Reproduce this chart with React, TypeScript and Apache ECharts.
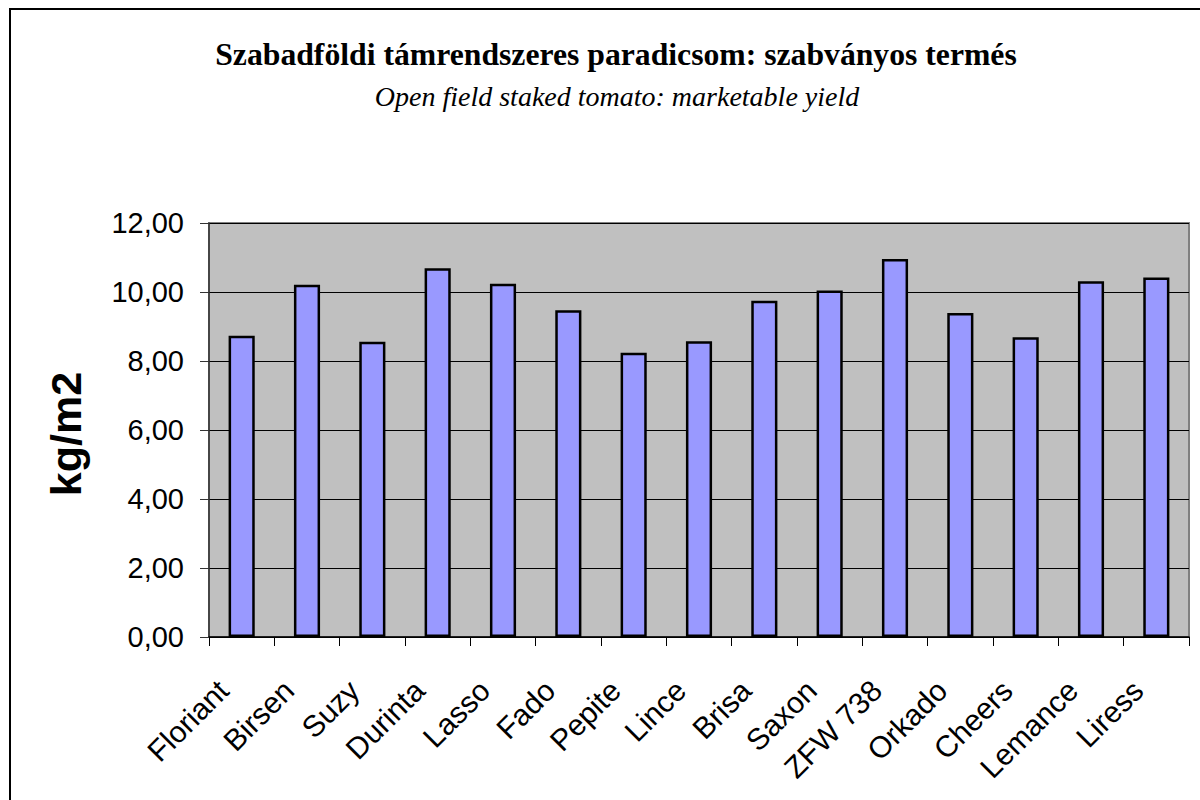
import React, { useEffect, useRef } from "react";
import * as echarts from "echarts";

const categories = [
  "Floriant", "Birsen", "Suzy", "Durinta", "Lasso", "Fado", "Pepite", "Lince",
  "Brisa", "Saxon", "ZFW 738", "Orkado", "Cheers", "Lemance", "Liress",
];
const yieldValues = [8.73, 10.21, 8.56, 10.69, 10.24, 9.47, 8.24, 8.57, 9.75, 10.04, 10.96, 9.39, 8.69, 10.31, 10.42];
const titleText = "Szabadföldi támrendszeres paradicsom: szabványos termés";
const subtitleText = "Open field staked tomato: marketable yield";
const yAxisName = "kg/m2";

export default function App() {
  const ref = useRef<HTMLDivElement>(null);
  useEffect(() => {
    document.body.style.margin = "0";
    if (!ref.current) return;
    const chart = echarts.init(ref.current, undefined, { renderer: "svg" });
    chart.setOption({
      animation: false,
      backgroundColor: "#ffffff",
      title: [
        {
          text: titleText,
          left: 611,
          top: 33,
          textAlign: "center",
          textStyle: { fontFamily: "Liberation Serif", fontWeight: "bold", fontSize: 31.7, color: "#000" },
        },
        {
          text: subtitleText,
          left: 612,
          top: 77,
          textAlign: "center",
          textStyle: { fontFamily: "Liberation Serif", fontStyle: "italic", fontWeight: "normal", fontSize: 28, color: "#000" },
        },
      ],
      graphic: [
        {
          type: "rect",
          shape: { x: 10, y: 9, width: 1200, height: 800 },
          style: { fill: "none", stroke: "#000", lineWidth: 2 },
          silent: true,
        },
        {
          type: "text",
          x: 66,
          y: 434,
          rotation: Math.PI / 2,
          style: {
            text: yAxisName,
            fontFamily: "Liberation Sans",
            fontWeight: "bold",
            fontSize: 43,
            fill: "#000",
            align: "center",
            verticalAlign: "middle",
          },
        },
      ],
      grid: {
        left: 209,
        top: 223,
        right: 11,
        bottom: 163,
        show: true,
        backgroundColor: "#C0C0C0",
        borderColor: "#808080",
        borderWidth: 2,
      },
      xAxis: {
        type: "category",
        data: categories,
        axisLine: { lineStyle: { color: "#000", width: 1.5 } },
        axisTick: { show: true, length: 9, interval: 0, lineStyle: { color: "#000" } },
        axisLabel: {
          interval: 0,
          rotate: 45,
          margin: 30,
          padding: [0, 26, 0, 0],
          fontFamily: "Liberation Sans",
          fontSize: 30,
          color: "#000",
        },
      },
      yAxis: {
        type: "value",
        min: 0,
        max: 12,
        interval: 2,
        axisLine: { show: true, lineStyle: { color: "#333", width: 1.5 } },
        axisTick: { show: true, length: 9, lineStyle: { color: "#333" } },
        splitLine: { show: true, lineStyle: { color: "#000", width: 1 } },
        axisLabel: {
          margin: 25,
          fontFamily: "Liberation Sans",
          fontSize: 29,
          color: "#000",
          formatter: (v: number) => v.toFixed(2).replace(".", ","),
        },
      },
      series: [
        {
          type: "bar",
          data: yieldValues,
          barWidth: "40%",
          itemStyle: { color: "#9999FF", borderColor: "#000", borderWidth: 2.5 },
        },
      ],
    });
    return () => chart.dispose();
  }, []);
  return <div ref={ref} style={{ width: 1200, height: 800 }} />;
}
